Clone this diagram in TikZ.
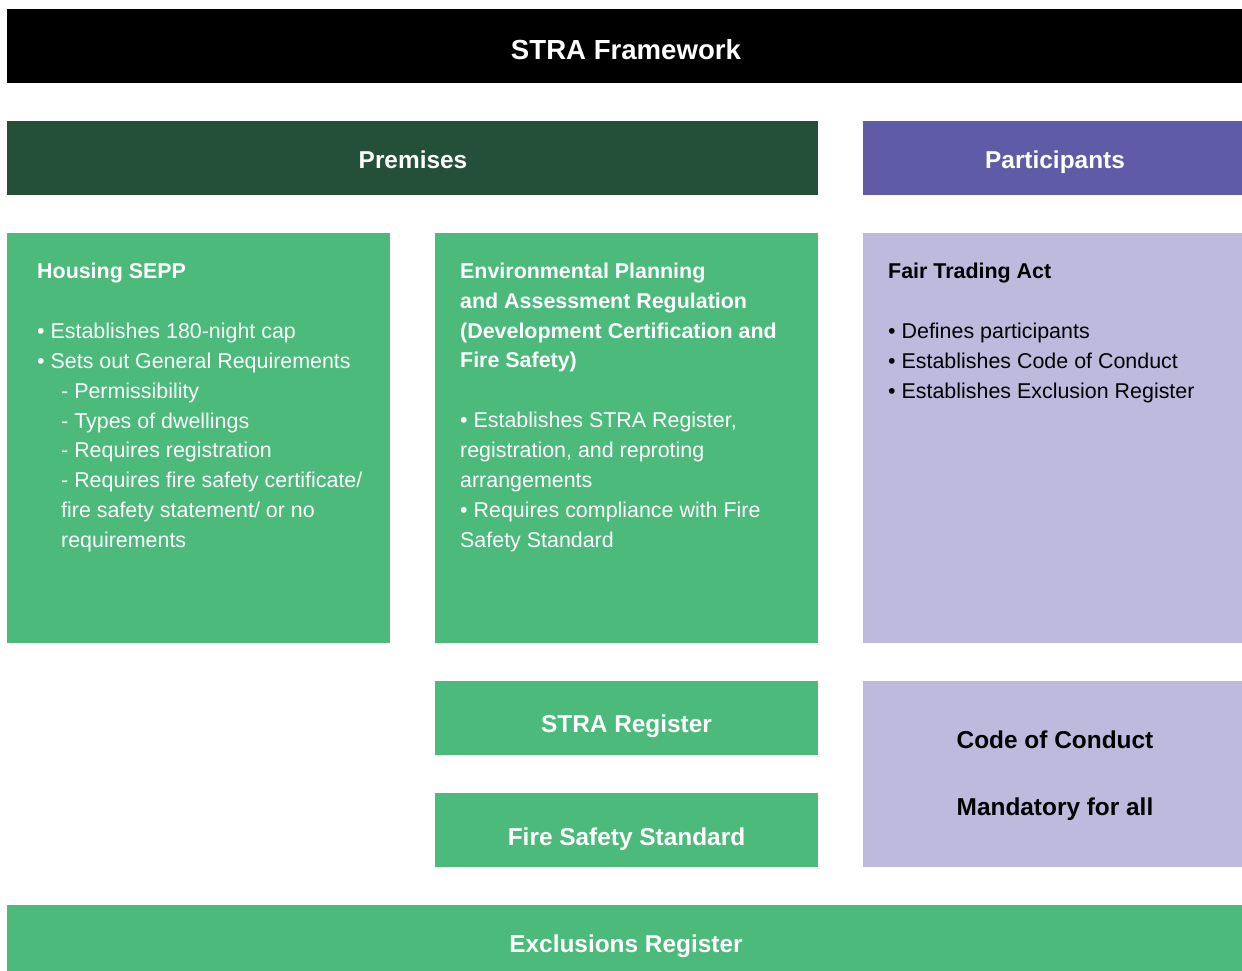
\documentclass[tikz,border=0pt]{standalone}
\usepackage{fontspec}
\setmainfont{Liberation Sans}
\begin{document}
\definecolor{deepgreen}{HTML}{24503A}
\definecolor{leafgreen}{HTML}{4BBA7A}
\definecolor{violet}{HTML}{5F5BA6}
\definecolor{lavender}{HTML}{BDBADD}
\begin{tikzpicture}[x=1bp,y=-1bp,
  panel/.style={anchor=north west, inner sep=0pt, outer sep=0pt, draw=none},
  bartext/.style={anchor=base, inner sep=0pt, font=\fontsize{24.5}{29}\selectfont\bfseries},
  bodytext/.style={anchor=north west, inner sep=0pt, align=left, font=\fontsize{21.5}{30}\selectfont},
]
\useasboundingbox (0,0) rectangle (1242,971);
\fill[white] (0,0) rectangle (1242,971);

% panels
\node[panel, fill=black, minimum width=1235bp, minimum height=74bp] (frame) at (7,9) {};
\node[panel, fill=deepgreen, minimum width=811bp, minimum height=74bp] (premises) at (7,121) {};
\node[panel, fill=violet, minimum width=379bp, minimum height=74bp] (participants) at (863,121) {};
\node[panel, fill=leafgreen, minimum width=383bp, minimum height=410bp] (sepp) at (7,233) {};
\node[panel, fill=leafgreen, minimum width=383bp, minimum height=410bp] (epar) at (435,233) {};
\node[panel, fill=lavender, minimum width=379bp, minimum height=410bp] (fta) at (863,233) {};
\node[panel, fill=leafgreen, minimum width=383bp, minimum height=74bp] (register) at (435,681) {};
\node[panel, fill=leafgreen, minimum width=383bp, minimum height=74bp] (firestd) at (435,793) {};
\node[panel, fill=lavender, minimum width=379bp, minimum height=186bp] (conduct) at (863,681) {};
\node[panel, fill=leafgreen, minimum width=1235bp, minimum height=66bp] (exclusions) at (7,905) {};

% bar labels
\node[bartext, text=white, font=\fontsize{27.7}{32}\selectfont\bfseries] (frameT) at (626,59) {STRA Framework};
\node[bartext, text=white] (premisesT) at (413,168) {Premises};
\node[bartext, text=white] (participantsT) at (1055,168) {Participants};
\node[bartext, text=white] (registerT) at (626.5,732.5) {STRA Register};
\node[bartext, text=white] (firestdT) at (626.5,845) {Fire Safety Standard};
\node[bartext, text=black] (conductT) at (1055,748.5) {Code of Conduct};
\node[bartext, text=black] (mandatoryT) at (1055,815.5) {Mandatory for all};
\node[bartext, text=white] (exclusionsT) at (626,952) {Exclusions Register};

% panel contents
\node[bodytext, text=white] (seppT) at (37,262.8) {%
\textbf{Housing SEPP}\\[30bp]
• Establishes 180-night cap\\
• Sets out General Requirements\\
\hspace*{24bp}- Permissibility\\
\hspace*{24bp}- Types of dwellings\\
\hspace*{24bp}- Requires registration\\
\hspace*{24bp}- Requires fire safety certificate/\\
\hspace*{24bp}fire safety statement/ or no\\
\hspace*{24bp}requirements};

\node[bodytext, text=white] (eparT) at (460,262.6) {%
\textbf{Environmental Planning}\\
\textbf{and Assessment Regulation}\\
\textbf{(Development Certification and}\\
\textbf{Fire Safety)}\\[30bp]
• Establishes STRA Register,\\
registration, and reproting\\
arrangements\\
• Requires compliance with Fire\\
Safety Standard};

\node[bodytext, text=black] (ftaT) at (888,262.8) {%
\textbf{Fair Trading Act}\\[30bp]
• Defines participants\\
• Establishes Code of Conduct\\
• Establishes Exclusion Register};
\end{tikzpicture}
\end{document}
